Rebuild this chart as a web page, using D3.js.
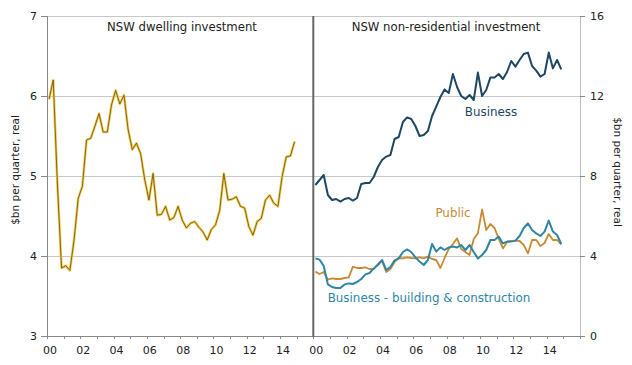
<!DOCTYPE html>
<html>
<head>
<meta charset="utf-8">
<script src="https://cdnjs.cloudflare.com/ajax/libs/d3/7.8.5/d3.min.js"></script>
<style>
  html, body { margin: 0; padding: 0; background: #fff; }
  svg { display: block; font-family: "DejaVu Sans", Verdana, sans-serif; }
</style>
</head>
<body>
<svg id="chart" width="632" height="365"></svg>
<script>
// ---- Data (quarterly, 2000 Q1 .. 2014 Q4), $bn per quarter, real ----
const firstQuarter = 2000.125;   // mid of first quarter
const quarterCount = 60;

const dwelling = [
  5.96, 6.20, 4.90, 3.85, 3.88, 3.82, 4.20, 4.72, 4.87, 5.45,
  5.47, 5.62, 5.78, 5.55, 5.55, 5.89, 6.07, 5.90, 6.01, 5.58,
  5.33, 5.41, 5.28, 4.95, 4.70, 5.03, 4.51, 4.52, 4.62, 4.45,
  4.48, 4.62, 4.45, 4.35, 4.41, 4.43, 4.36, 4.30, 4.20, 4.33,
  4.39, 4.57, 5.03, 4.70, 4.71, 4.74, 4.62, 4.60, 4.37, 4.26,
  4.43, 4.47, 4.70, 4.76, 4.66, 4.62, 4.99, 5.24, 5.25, 5.43
];

const business = [
  7.55, 7.80, 8.05, 7.05, 6.80, 6.85, 6.72, 6.85, 6.90, 6.77,
  6.90, 7.60, 7.65, 7.65, 7.95, 8.45, 8.80, 8.97, 9.05, 9.85,
  9.95, 10.70, 10.93, 10.85, 10.50, 10.00, 10.05, 10.25, 11.00, 11.47,
  11.95, 12.33, 12.15, 13.10, 12.45, 12.00, 11.85, 12.05, 11.80, 13.17,
  12.00, 12.30, 12.93, 12.93, 13.10, 12.85, 13.20, 13.75, 13.47, 13.80,
  14.10, 14.17, 13.50, 13.27, 12.97, 13.10, 14.17, 13.38, 13.80, 13.33
];

const publicInv = [
  3.22, 3.10, 3.20, 2.82, 2.88, 2.85, 2.85, 2.90, 2.93, 3.47,
  3.40, 3.40, 3.43, 3.35, 3.35, 3.60, 3.75, 3.20, 3.35, 3.70,
  3.90, 3.88, 3.93, 3.90, 3.88, 3.93, 3.88, 3.97, 3.85, 3.80,
  3.40, 3.90, 4.35, 4.60, 4.88, 4.35, 4.20, 4.05, 4.85, 5.13,
  6.33, 5.30, 5.60, 5.40, 4.85, 4.38, 4.70, 4.75, 4.77, 4.75,
  4.55, 4.13, 4.80, 4.80, 4.50, 4.65, 5.10, 4.80, 4.80, 4.58
];

const businessBuilding = [
  3.88, 3.82, 3.50, 2.58, 2.45, 2.40, 2.40, 2.58, 2.63, 2.60,
  2.70, 2.85, 3.08, 3.15, 3.38, 3.55, 3.80, 3.30, 3.45, 3.78,
  3.88, 4.20, 4.33, 4.20, 3.93, 3.72, 3.55, 3.80, 4.60, 4.22,
  4.43, 4.30, 4.43, 4.47, 4.43, 4.55, 4.30, 4.55, 4.20, 3.88,
  4.05, 4.30, 4.80, 4.80, 4.97, 4.63, 4.72, 4.72, 4.77, 5.00,
  5.40, 5.63, 5.30, 5.13, 5.00, 5.22, 5.77, 5.22, 5.05, 4.60
];

const leftTicks = [3, 4, 5, 6, 7];
const rightTicks = [0, 4, 8, 12, 16];
const yearLabels = ["00", "02", "04", "06", "08", "10", "12", "14"];
const panelTitles = ["NSW dwelling investment", "NSW non-residential investment"];
const seriesLabels = ["Business", "Public", "Business - building & construction"];
const axisTitle = "$bn per quarter, real";

const quarters = d3.range(quarterCount).map(i => firstQuarter + 0.25 * i);

// ---- Layout ----
const svg = d3.select("#chart");
const plotTop = 16, plotBottom = 336;
const xL0 = 47, xMid = 313.3, xR1 = 580;

const xLeft = d3.scaleLinear().domain([2000, 2016]).range([xL0, xMid]);
const xRight = d3.scaleLinear().domain([2000, 2016]).range([xMid, xR1]);
const yLeft = d3.scaleLinear().domain([3, 7]).range([plotBottom, plotTop]);
const yRight = d3.scaleLinear().domain([0, 16]).range([plotBottom, plotTop]);

const textColor = "#222";

// gridlines
svg.append("g").selectAll("line").data(leftTicks.slice(1)).join("line")
  .attr("x1", xL0).attr("x2", xR1)
  .attr("y1", d => yLeft(d)).attr("y2", d => yLeft(d))
  .attr("stroke", "#c8c8c8").attr("stroke-width", 1)
  .attr("shape-rendering", "crispEdges");

// left axis
const gL = svg.append("g").attr("transform", `translate(${xL0},0)`)
  .call(d3.axisLeft(yLeft).tickValues(leftTicks).tickFormat(d3.format("d")).tickSize(6).tickPadding(4));
// right axis
const gR = svg.append("g").attr("transform", `translate(${xR1},0)`)
  .call(d3.axisRight(yRight).tickValues(rightTicks).tickFormat(d3.format("d")).tickSize(5).tickPadding(5));

// bottom axes (ticks each year)
const yearsAll = d3.range(2000, 2017);
const gB1 = svg.append("g").attr("transform", `translate(0,${plotBottom})`)
  .call(d3.axisBottom(xLeft).tickValues(yearsAll).tickFormat("").tickSize(3));
const gB2 = svg.append("g").attr("transform", `translate(0,${plotBottom})`)
  .call(d3.axisBottom(xRight).tickValues(yearsAll).tickFormat("").tickSize(3));

[gL, gR, gB1, gB2].forEach(g => {
  g.selectAll(".domain").attr("stroke", "#888").attr("shape-rendering", "crispEdges");
  g.selectAll(".tick line").attr("stroke", "#888").attr("shape-rendering", "crispEdges");
  g.selectAll("text").attr("font-size", 11).attr("fill", textColor)
    .attr("font-family", "DejaVu Sans, Verdana, sans-serif");
});
gR.selectAll(".domain").attr("stroke", "#bbb");
gB1.select(".domain").attr("d", `M${xL0},0H${xMid}`);
gB2.select(".domain").attr("d", `M${xMid},0H${xR1}`);

// year labels
const labelYears = yearLabels.map(s => 2000 + (+s));
[xLeft, xRight].forEach(xs => {
  svg.append("g").selectAll("text").data(labelYears).join("text")
    .attr("x", (d) => xs(d) + 3)
    .attr("y", plotBottom + 18)
    .attr("text-anchor", "middle")
    .attr("font-size", 11).attr("fill", textColor)
    .text((d, i) => yearLabels[i]);
});

// divider
svg.append("line").attr("x1", xMid).attr("x2", xMid).attr("y1", plotTop).attr("y2", plotBottom + 1)
  .attr("stroke", "#666").attr("stroke-width", 2);

// axis titles
svg.append("text")
  .attr("transform", `translate(19,170) rotate(-90)`)
  .attr("text-anchor", "middle").attr("font-size", 10.5).attr("fill", textColor)
  .text(axisTitle);
svg.append("text")
  .attr("transform", `translate(614,172) rotate(90)`)
  .attr("text-anchor", "middle").attr("font-size", 10.5).attr("fill", textColor)
  .text(axisTitle);

// panel titles
svg.append("text").attr("x", 182).attr("y", 31).attr("text-anchor", "middle")
  .attr("font-size", 11.7).attr("fill", textColor).text(panelTitles[0]);
svg.append("text").attr("x", 446).attr("y", 31).attr("text-anchor", "middle")
  .attr("font-size", 11.7).attr("fill", textColor).text(panelTitles[1]);

// lines
const lineL = d3.line().x((d, i) => xLeft(quarters[i])).y(d => yLeft(d));
const lineR = d3.line().x((d, i) => xRight(quarters[i])).y(d => yRight(d));
// dwelling: yellow halo with dark core
svg.append("path").datum(dwelling).attr("d", lineL)
  .attr("fill", "none").attr("stroke", "#f5cb50").attr("stroke-width", 2.6).attr("stroke-linejoin", "round");
svg.append("path").datum(dwelling).attr("d", lineL)
  .attr("fill", "none").attr("stroke", "#5e4c12").attr("stroke-width", 0.8).attr("stroke-linejoin", "round");

const colBusiness = "#1d4763", colPublic = "#c98a35", colBB = "#2e86a3";
svg.append("path").datum(publicInv).attr("d", lineR)
  .attr("fill", "none").attr("stroke", colPublic).attr("stroke-width", 1.8).attr("stroke-linejoin", "round");
svg.append("path").datum(businessBuilding).attr("d", lineR)
  .attr("fill", "none").attr("stroke", colBB).attr("stroke-width", 2).attr("stroke-linejoin", "round");
svg.append("path").datum(business).attr("d", lineR)
  .attr("fill", "none").attr("stroke", colBusiness).attr("stroke-width", 2).attr("stroke-linejoin", "round");

// series labels
svg.append("text").attr("x", 491).attr("y", 116).attr("text-anchor", "middle")
  .attr("font-size", 11.9).attr("fill", colBusiness).text(seriesLabels[0]);
svg.append("text").attr("x", 453).attr("y", 217).attr("text-anchor", "middle")
  .attr("font-size", 11.9).attr("fill", colPublic).text(seriesLabels[1]);
svg.append("text").attr("x", 429).attr("y", 302).attr("text-anchor", "middle")
  .attr("font-size", 11.9).attr("fill", colBB).text(seriesLabels[2]);
</script>
</body>
</html>
